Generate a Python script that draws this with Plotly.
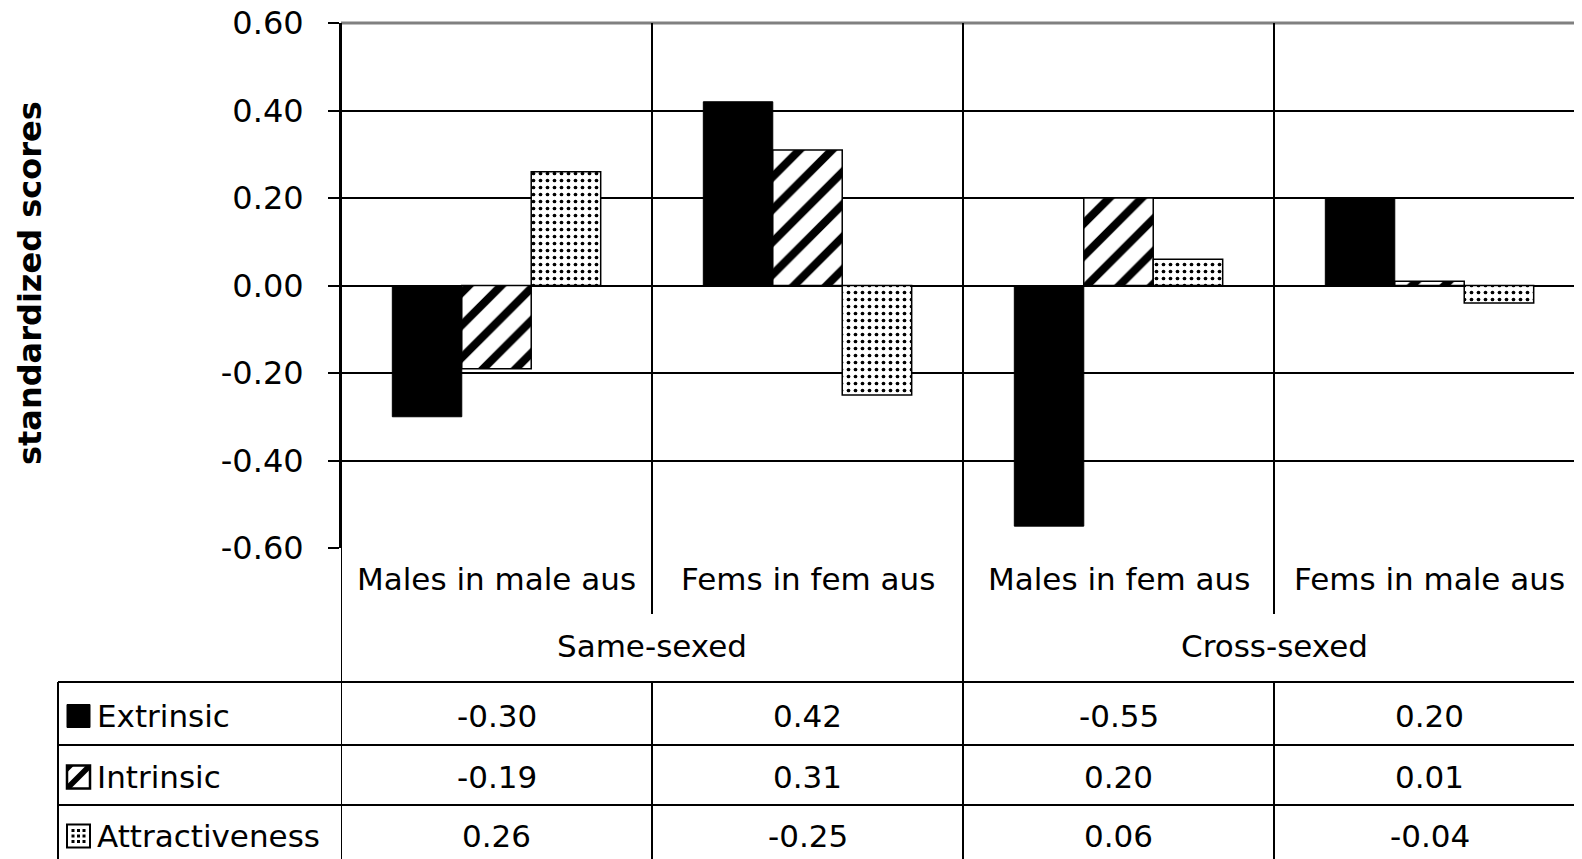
import plotly.graph_objects as go

categories = ["Males in male aus", "Fems in fem aus", "Males in fem aus", "Fems in male aus"]
groups = ["Same-sexed", "Cross-sexed"]
series_names = ["Extrinsic", "Intrinsic", "Attractiveness"]
extrinsic = [-0.30, 0.42, -0.55, 0.20]
intrinsic = [-0.19, 0.31, 0.20, 0.01]
attractiveness = [0.26, -0.25, 0.06, -0.04]
tick_vals = [-0.6, -0.4, -0.2, 0.0, 0.2, 0.4, 0.6]
tick_text = ["-0.60", "-0.40", "-0.20", "0.00", "0.20", "0.40", "0.60"]

OFF = 8  # page body margin
W, H = 1582 - OFF, 859 - OFF
PL, PT, PB = 341 - OFF, 23 - OFF, 548 - OFF  # plot area bounds in figure pixels
PW = W - PL
PH = PB - PT

def py(p):  # reference pixel y -> paper y
    return (PB - (p - OFF)) / PH

def px(p):  # reference pixel x -> paper x
    return ((p - OFF) - PL) / PW

FONT = "DejaVu Sans, Liberation Sans, Arial, sans-serif"
xs = list(range(len(categories)))

fig = go.Figure()
fig.add_trace(go.Bar(x=xs, y=extrinsic, name=series_names[0],
                     marker=dict(color="black", line=dict(color="black", width=1))))
fig.add_trace(go.Bar(x=xs, y=intrinsic, name=series_names[1],
                     marker=dict(color="white", line=dict(color="black", width=1.5),
                                 pattern=dict(shape="/", fgcolor="black", bgcolor="white",
                                              size=23, solidity=0.35, fillmode="replace"))))
fig.add_trace(go.Bar(x=xs, y=attractiveness, name=series_names[2],
                     marker=dict(color="white", line=dict(color="black", width=1.5),
                                 pattern=dict(shape=".", fgcolor="black", bgcolor="white",
                                              size=7, solidity=0.22, fillmode="replace"))))

shapes = []
line = dict(color="black", width=2)
shapes.append(dict(type="line", xref="paper", yref="paper", x0=0, x1=1, y0=1, y1=1,
                   line=dict(color="#808080", width=3)))
bottom = -0.65
shapes.append(dict(type="line", xref="x", yref="paper", x0=-0.5, x1=-0.5, y0=1, y1=bottom, line=line))
for xb in [0.5, 2.5]:
    shapes.append(dict(type="line", xref="x", yref="paper", x0=xb, x1=xb, y0=1, y1=py(614), line=line))
    shapes.append(dict(type="line", xref="x", yref="paper", x0=xb, x1=xb, y0=py(682), y1=bottom, line=line))
shapes.append(dict(type="line", xref="x", yref="paper", x0=1.5, x1=1.5, y0=1, y1=bottom, line=line))
for yy in [682, 745, 805]:
    shapes.append(dict(type="line", xref="paper", yref="paper", x0=px(58), x1=1, y0=py(yy), y1=py(yy), line=line))
shapes.append(dict(type="line", xref="paper", yref="paper", x0=px(58), x1=px(58), y0=py(682), y1=bottom, line=line))

# legend keys in the table
row_centers = [716, 777, 836]
ks = 23
kx0 = 67
for i, rc in enumerate(row_centers):
    top, bot = rc - ks / 2, rc + ks / 2
    x0, x1 = px(kx0), px(kx0 + ks)
    if i == 0:
        shapes.append(dict(type="rect", xref="paper", yref="paper", x0=x0, x1=x1, y0=py(bot), y1=py(top),
                           fillcolor="black", line=dict(color="black", width=1)))
    elif i == 1:
        shapes.append(dict(type="rect", xref="paper", yref="paper", x0=x0, x1=x1, y0=py(bot), y1=py(top),
                           fillcolor="white", line=dict(color="black", width=2.5)))
        band = (f"M {px(kx0)},{py(bot-4)} L {px(kx0+ks-4)},{py(top)} L {px(kx0+ks)},{py(top)} "
                f"L {px(kx0+ks)},{py(top+4)} L {px(kx0+4)},{py(bot)} L {px(kx0)},{py(bot)} Z")
        shapes.append(dict(type="path", xref="paper", yref="paper", path=band,
                           fillcolor="black", line=dict(width=0)))
        corner = f"M {px(kx0)},{py(top)} L {px(kx0+7)},{py(top)} L {px(kx0)},{py(top+7)} Z"
        shapes.append(dict(type="path", xref="paper", yref="paper", path=corner,
                           fillcolor="black", line=dict(width=0)))
    else:
        shapes.append(dict(type="rect", xref="paper", yref="paper", x0=x0, x1=x1, y0=py(bot), y1=py(top),
                           fillcolor="white", line=dict(color="black", width=2)))
        for dx in [6, 11.5, 17]:
            for dy in [6, 11.5, 17]:
                shapes.append(dict(type="rect", xref="paper", yref="paper",
                                   x0=px(kx0 + dx - 1.5), x1=px(kx0 + dx + 1.5),
                                   y0=py(top + dy + 1.5), y1=py(top + dy - 1.5),
                                   fillcolor="black", line=dict(width=0)))

annotations = []
tf = dict(family=FONT, size=31, color="black")
for i, c in enumerate(categories):
    annotations.append(dict(x=i, y=py(579), xref="x", yref="paper", text=c, showarrow=False,
                            font=tf, xanchor="center", yanchor="middle"))
for g, gx in zip(groups, [0.5, 2.5]):
    annotations.append(dict(x=gx, y=py(646), xref="x", yref="paper", text=g, showarrow=False,
                            font=tf, xanchor="center", yanchor="middle"))
for r, (name, vals) in enumerate(zip(series_names, [extrinsic, intrinsic, attractiveness])):
    rc = row_centers[r]
    annotations.append(dict(x=px(95), y=py(rc), xref="paper", yref="paper", text=name, showarrow=False,
                            font=tf, xanchor="left", yanchor="middle"))
    for i, v in enumerate(vals):
        annotations.append(dict(x=i, y=py(rc), xref="x", yref="paper", text=f"{v:.2f}", showarrow=False,
                                font=tf, xanchor="center", yanchor="middle"))
annotations.append(dict(x=px(30), y=py(283), xref="paper", yref="paper", text="<b>standardized scores</b>",
                        showarrow=False, textangle=-90, font=dict(family=FONT, size=32, color="black"),
                        xanchor="center", yanchor="middle"))

fig.update_layout(
    width=W, height=H,
    margin=dict(l=PL, r=0, t=PT, b=H - PB, pad=0),
    paper_bgcolor="white", plot_bgcolor="white",
    barmode="group", bargap=0.33, bargroupgap=0,
    showlegend=False,
    shapes=shapes, annotations=annotations,
    xaxis=dict(range=[-0.5, -0.5 + PW / 311.0], showticklabels=False, showgrid=False,
               zeroline=False, showline=False, ticks=""),
    yaxis=dict(range=[-0.6, 0.6], tickvals=tick_vals, ticktext=tick_text,
               showgrid=True, gridcolor="black", gridwidth=2, zeroline=False,
               showline=True, linecolor="black", linewidth=2,
               ticks="outside", ticklen=11, tickwidth=2, tickcolor="black",
               ticklabelstandoff=18, ticklabeloverflow="allow",
               automargin=False,
               tickfont=dict(family=FONT, size=32, color="black")),
)

fig.write_html("out.html")
